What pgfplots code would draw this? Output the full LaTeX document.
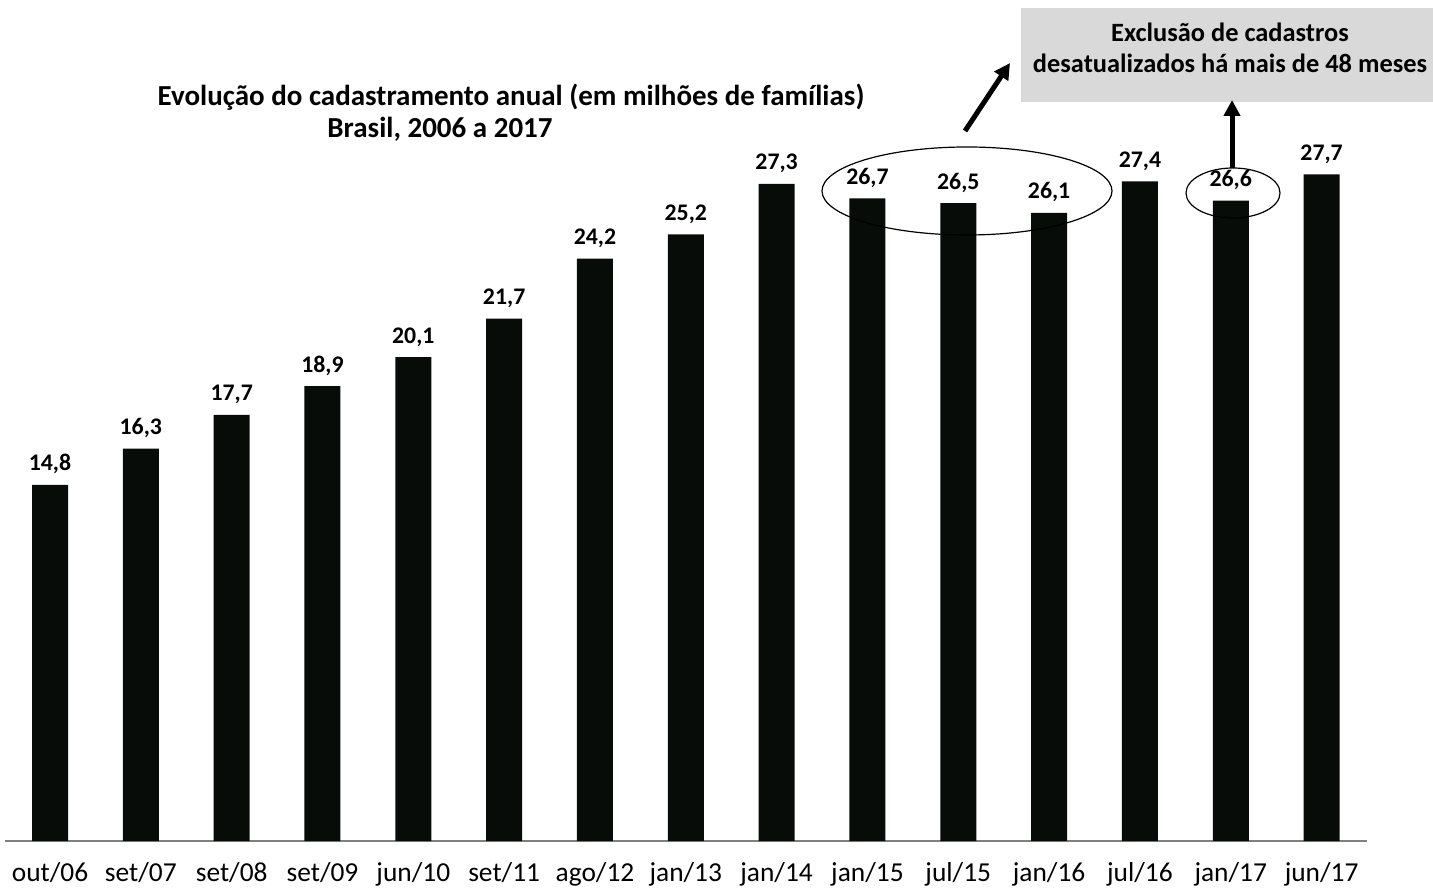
\documentclass[border=0pt]{standalone}
\usepackage{pgfplots}
\pgfplotsset{compat=1.18}
\usetikzlibrary{arrows.meta}
\usepackage{fontspec}
\setmainfont{Carlito}

\definecolor{barblack}{RGB}{8,12,8}
\definecolor{boxgray}{RGB}{217,217,217}
\definecolor{axisgray}{RGB}{128,128,128}

\begin{document}
\begin{tikzpicture}
\begin{axis}[
    at={(0,0)}, anchor=south west,
    scale only axis,
    width=681.2pt, height=420.5pt,
    xmin=-0.5, xmax=14.5,
    ymin=0, ymax=34.94,
    clip=false,
    axis y line=none,
    axis x line*=bottom,
    x axis line style={draw=axisgray, line width=1pt},
    xtick={0,...,14},
    xticklabels={out/06,set/07,set/08,set/09,jun/10,set/11,ago/12,jan/13,jan/14,jan/15,jul/15,jan/16,jul/16,jan/17,jun/17},
    xtick style={draw=none},
    xticklabel style={font=\fontsize{13.7}{15}\selectfont, anchor=base, yshift=-16pt},
    ytick=\empty,
    ybar,
    bar width=18pt,
    nodes near coords,
    nodes near coords style={font=\bfseries\fontsize{11.9}{14}\selectfont,
        /pgf/number format/assume math mode=true,
        /pgf/number format/use comma, /pgf/number format/fixed,
        /pgf/number format/fixed zerofill, /pgf/number format/precision=1},
    every node near coord/.append style={anchor=base, yshift=7pt},
]
\addplot[fill=barblack, draw=none] coordinates {
    (0,14.8) (1,16.3) (2,17.7) (3,18.9) (4,20.1) (5,21.7) (6,24.2) (7,25.2)
    (8,27.3) (9,26.7) (10,26.5) (11,26.1) (12,27.4) (13,26.6) (14,27.7)
};
\end{axis}

% overlay in reference pixel coordinates
\begin{scope}[x=0.5pt, y=-0.5pt, shift={(-2.3pt,420.5pt)}]
  \path[use as bounding box] (0,0) rectangle (1433,893);
  \node[font=\bfseries\fontsize{14.5}{17}\selectfont, anchor=base] at (511,106)
    {Evolução do cadastramento anual (em milhões de famílias)};
  \node[font=\bfseries\fontsize{14.5}{17}\selectfont, anchor=base] at (440,138)
    {Brasil, 2006 a 2017};
  \fill[boxgray] (1021,8) rectangle (1433,102);
  \node[font=\bfseries\fontsize{13.2}{15.5}\selectfont, align=center] at (1230,48)
    {Exclusão de cadastros\\desatualizados há mais de 48 meses};
  \draw[line width=0.6pt] (967,191) ellipse [x radius=72.5pt, y radius=22pt];
  \draw[line width=0.6pt] (1233,193) ellipse [x radius=23.5pt, y radius=12.5pt];
  \draw[line width=2.5pt, -{Triangle[length=8pt, width=8pt]}] (965,131) -- (1010,63);
  \draw[line width=2.5pt, -{Triangle[length=8pt, width=8pt]}] (1232,168) -- (1232,100);
\end{scope}
\end{tikzpicture}
\end{document}
